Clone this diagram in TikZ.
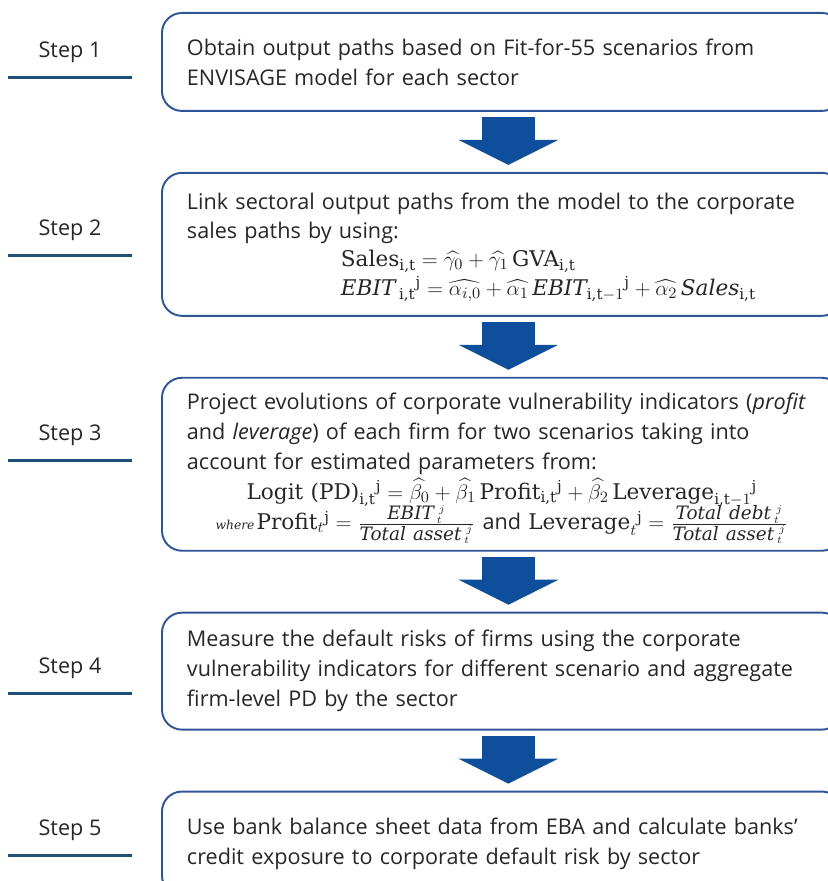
\documentclass[tikz,border=0pt]{standalone}
\usepackage{amsmath}
\usepackage{fontspec}
\usepackage{tikz}
\usetikzlibrary{positioning}
\usetikzlibrary{arrows.meta}
\setmainfont{Open Sans}
\newfontfamily\eqfont{DejaVu Serif}
\definecolor{boxblue}{RGB}{47,85,151}
\definecolor{arrowblue}{RGB}{14,78,155}
\definecolor{ruleblue}{RGB}{31,78,121}
\definecolor{inkgray}{RGB}{38,38,38}
\newcommand{\eq}[1]{\text{\eqfont #1}}
\newcommand{\fr}[1]{\text{\eqfont\fontsize{10.5}{12}\selectfont\itshape #1}}
\newcommand{\bodyfont}{\fontsize{12.3}{17}\selectfont}

\begin{document}
\begin{tikzpicture}[
x=0.02cm, y=-0.02cm,
every node/.style={text=inkgray, font=\bodyfont},
stagebox/.style={rectangle, draw=boxblue, line width=1.1pt, rounded corners=0.4cm, text width=12.6cm, inner xsep=0.5cm, inner ysep=0pt, align=left},
steplabel/.style={minimum width=2.45cm, minimum height=1cm, inner sep=0pt},
stepline/.style={draw=ruleblue, line width=1.7pt},
flowarrow/.style={draw=arrowblue, line width=1.06cm, -{Triangle[width=2cm 0, length=0.5cm 0 0, line width=0pt 0 0]}, shorten <=0.1cm, shorten >=0.14cm}
]
\useasboundingbox (0,0) rectangle (827,881);

% stage boxes
\node[stagebox, minimum height=1.96cm, anchor=north west] (box1) at (161,12) {Obtain output paths based on Fit-for-55 scenarios from\\ ENVISAGE model for each sector};
\node[stagebox, minimum height=2.86cm, below=1.2cm of box1, font=\fontsize{12.3}{16.2}\selectfont] (box2) {\rule{0pt}{0.45cm}Link sectoral output paths from the model to the corporate\\ sales paths by using:\\
\hspace*{3.08cm}$\eq{Sales}_{\eq{i,t}} = \widehat{\gamma_0} + \widehat{\gamma_1}\,\eq{GVA}_{\eq{i,t}}$\\
\hspace*{3.08cm}$\eq{\itshape EBIT}\,{}_{\eq{i,t}}{}^{\eq{j}} = \widehat{\alpha_{i,0}} + \widehat{\alpha_1}\,\eq{\itshape EBIT}_{\eq{i,t}-1}{}^{\eq{j}} + \widehat{\alpha_2}\,\eq{\itshape Sales}_{\eq{i,t}}$};
\node[stagebox, minimum height=3.46cm, below=1.2cm of box2] (box3) {\rule{0pt}{0.5cm}Project evolutions of corporate vulnerability indicators (\textit{profit}\\ and \textit{leverage}) of each firm for two scenarios taking into\\ account for estimated parameters from:\\
\makebox[12.6cm]{$\eq{Logit (PD)}_{\eq{i,t}}{}^{\eq{j}} = \widehat{\beta_0} + \widehat{\beta_1}\,\eq{Profit}_{\eq{i,t}}{}^{\eq{j}} + \widehat{\beta_2}\,\eq{Leverage}_{\eq{i,t}-1}{}^{\eq{j}}$}\\[-2pt]
\makebox[12.6cm]{{\eqfont\itshape\fontsize{7}{9}\selectfont where\,}$\eq{Profit}_t{}^{\eq{j}} = \frac{\fr{EBIT}\,{}_t^{\,j}}{\fr{Total asset}\,{}_t^{\,j}}$ and $\eq{Leverage}_t{}^{\eq{j}} = \frac{\fr{Total debt}\,{}_t^{\,j}}{\fr{Total asset}\,{}_t^{\,j}}$}};
\node[stagebox, minimum height=2.34cm, below=1.2cm of box3] (box4) {Measure the default risks of firms using the corporate\\ vulnerability indicators for different scenario and aggregate\\ firm-level PD by the sector};
\node[stagebox, minimum height=2.08cm, below=1.2cm of box4] (box5) {Use bank balance sheet data from EBA and calculate banks'\\ credit exposure to corporate default risk by sector};

% step labels
\node[steplabel] (step1) at (70,52) {Step 1};
\node[steplabel] (step2) at (70,230) {Step 2};
\node[steplabel] (step3) at (70,435) {Step 3};
\node[steplabel] (step4) at (70,668) {Step 4};
\node[steplabel] (step5) at (70,830) {Step 5};
\foreach \s in {step1,step2,step3,step4,step5}
  \draw[stepline] (\s.south west) -- (\s.south east);

% block arrows
\draw[flowarrow] ([xshift=0.13cm]box1.south) -- ([xshift=0.13cm]box2.north);
\draw[flowarrow] ([xshift=0.13cm]box2.south) -- ([xshift=0.13cm]box3.north);
\draw[flowarrow] ([xshift=0.13cm]box3.south) -- ([xshift=0.13cm]box4.north);
\draw[flowarrow] ([xshift=0.13cm]box4.south) -- ([xshift=0.13cm]box5.north);
\end{tikzpicture}
\end{document}
